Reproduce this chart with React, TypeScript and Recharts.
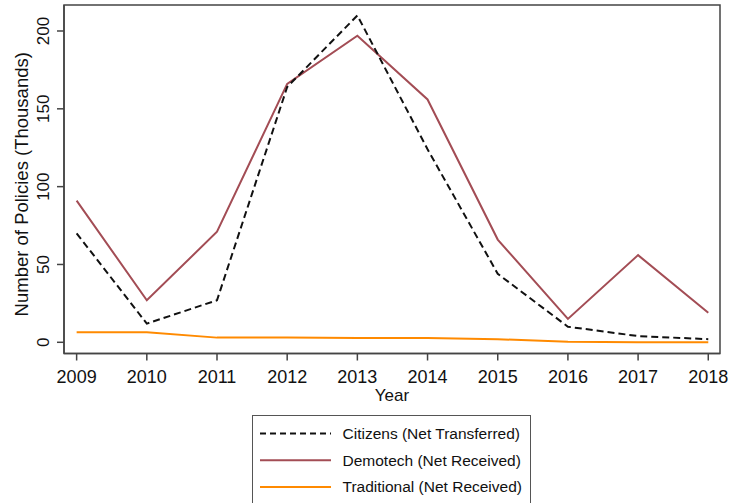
import React from 'react'
import {
  LineChart, Line, XAxis, YAxis, ReferenceArea,
} from 'recharts'

const years = [2009, 2010, 2011, 2012, 2013, 2014, 2015, 2016, 2017, 2018]
const citizens = [70, 12, 27, 164, 210, 124, 44, 10, 4, 2]
const demotech = [91, 27, 71, 166, 197, 156, 66, 15, 56, 19]
const traditional = [6.5, 6.5, 3, 3, 2.7, 2.7, 2, 0.3, 0, 0]
const yTicks = [0, 50, 100, 150, 200]
const seriesNames = ['Citizens (Net Transferred)', 'Demotech (Net Received)', 'Traditional (Net Received)']

const X_DOMAIN: [number, number] = [2008.82, 2018.167]
const Y_DOMAIN: [number, number] = [-7.2, 216.7]

const data = years.map((year, i) => ({
  year,
  citizens: citizens[i],
  demotech: demotech[i],
  traditional: traditional[i],
}))

const FONT = 'Liberation Sans, Arial, sans-serif'
const MAROON = '#a34d55'
const ORANGE = '#ff8a00'

const XTick = (props: any) => {
  const { x, payload } = props
  return (
    <text x={x} y={377} textAnchor="middle" dominantBaseline="central"
      fontFamily={FONT} fontSize={18} fill="#111">
      {payload.value}
    </text>
  )
}

const YTick = (props: any) => {
  const { y, payload } = props
  const cx = 43
  return (
    <text x={cx} y={y} transform={`rotate(-90, ${cx}, ${y})`} textAnchor="middle" dy="0.35em"
      fontFamily={FONT} fontSize={17} fill="#111">
      {payload.value}
    </text>
  )
}

export default function App() {
  const legendRows = [
    { name: seriesNames[0], color: '#111', dash: '6 4', width: 2 },
    { name: seriesNames[1], color: MAROON, dash: undefined, width: 2 },
    { name: seriesNames[2], color: ORANGE, dash: undefined, width: 2 },
  ]
  return (
    <div style={{ position: 'absolute', left: 0, top: 0, width: 730, height: 503, background: '#fff', overflow: 'hidden' }}>
      <LineChart width={730} height={503} data={data} margin={{ top: 5, right: 10, left: 0, bottom: 0 }}>
        <XAxis
          dataKey="year"
          type="number"
          domain={X_DOMAIN}
          ticks={years}
          allowDataOverflow
          height={149.5}
          tickSize={7}
          tick={<XTick />}
          axisLine={{ stroke: '#444', strokeWidth: 1.5 }}
          tickLine={{ stroke: '#444', strokeWidth: 1.5 }}
          label={{
            content: (p: any) => {
              const vb = p.viewBox
              return (
                <text x={vb.x + vb.width / 2} y={vb.y + 42} textAnchor="middle" dominantBaseline="central"
                  fontFamily={FONT} fontSize={17} fill="#111">Year</text>
              )
            },
          }}
        />
        <YAxis
          type="number"
          domain={Y_DOMAIN}
          ticks={yTicks}
          allowDataOverflow
          width={64}
          tickSize={7}
          tick={<YTick />}
          axisLine={{ stroke: '#444', strokeWidth: 1.5 }}
          tickLine={{ stroke: '#444', strokeWidth: 1.5 }}
          label={{
            content: (p: any) => {
              const vb = p.viewBox
              const cx = 22
              const cy = vb.y + vb.height / 2 + 5
              return (
                <text x={cx} y={cy} transform={`rotate(-90, ${cx}, ${cy})`} textAnchor="middle" dy="0.35em"
                  fontFamily={FONT} fontSize={18.5} fill="#111">Number of Policies (Thousands)</text>
              )
            },
          }}
        />
        <ReferenceArea x1={X_DOMAIN[0]} x2={X_DOMAIN[1]} y1={Y_DOMAIN[0]} y2={Y_DOMAIN[1]}
          fill="none" fillOpacity={0} stroke="#444" strokeWidth={1.5} ifOverflow="visible" />
        <Line dataKey="traditional" stroke={ORANGE} strokeWidth={2} dot={false} isAnimationActive={false} />
        <Line dataKey="demotech" stroke={MAROON} strokeWidth={2} dot={false} isAnimationActive={false} />
        <Line dataKey="citizens" stroke="#111" strokeWidth={2} strokeDasharray="7 4" dot={false} isAnimationActive={false} />
      </LineChart>
      <div style={{
        position: 'absolute', left: 252, top: 415, width: 279, height: 100,
        border: '1.5px solid #555', boxSizing: 'border-box', background: '#fff',
      }}>
        <svg width={279} height={100} style={{ display: 'block' }}>
          {legendRows.map((r, i) => {
            const y = 17.5 + i * 26.7
            return (
              <g key={r.name}>
                <line x1={7} x2={78} y1={y} y2={y} stroke={r.color} strokeWidth={r.width} strokeDasharray={r.dash} />
                <text x={89.5} y={y} dominantBaseline="central" fontFamily={FONT} fontSize={15.5} fill="#111">{r.name}</text>
              </g>
            )
          })}
        </svg>
      </div>
    </div>
  )
}
